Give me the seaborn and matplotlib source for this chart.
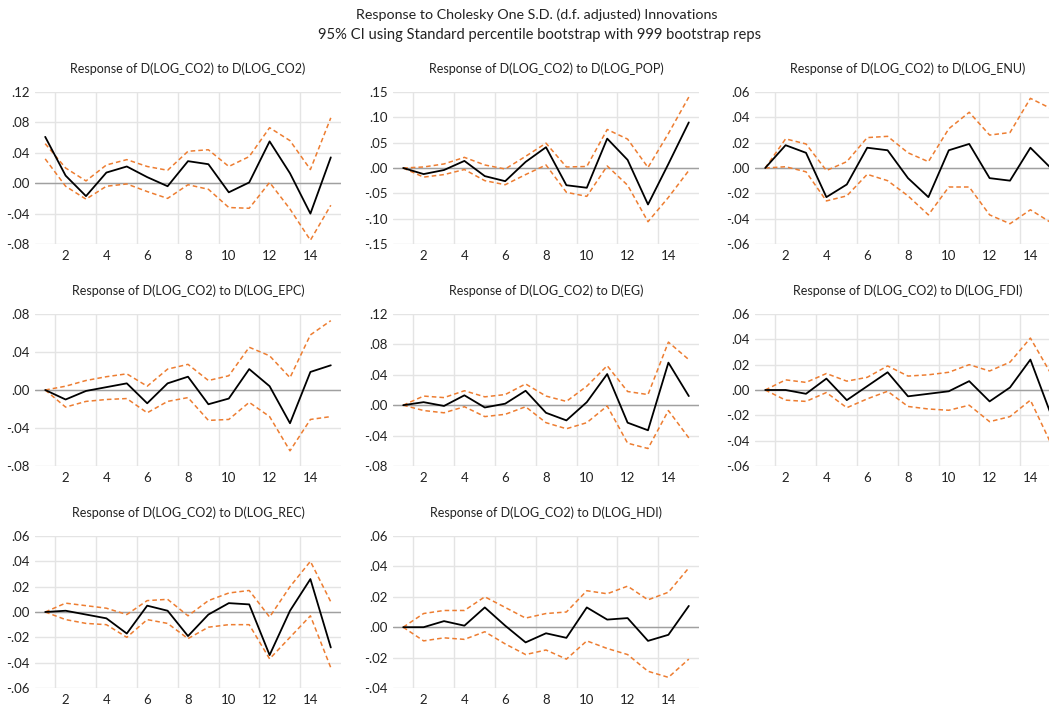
import numpy as np
import pandas as pd
import matplotlib
matplotlib.use('Agg')
import matplotlib.pyplot as plt
from matplotlib.ticker import FixedLocator, FuncFormatter
import seaborn as sns

sns.set_style('white')
plt.rcParams['font.family'] = ['Lato', 'DejaVu Sans']

periods = list(range(1, 16))

# response of D(LOG_CO2) to each shock, with upper / lower 95% band
co2_resp = [0.061, 0.010, -0.017, 0.014, 0.022, 0.008, -0.004, 0.029, 0.025, -0.012, 0.001, 0.055, 0.013, -0.040, 0.034]
co2_up = [0.052, 0.020, 0.003, 0.024, 0.031, 0.022, 0.017, 0.042, 0.044, 0.022, 0.035, 0.073, 0.056, 0.018, 0.086]
co2_lo = [0.032, -0.004, -0.021, -0.004, -0.001, -0.011, -0.020, -0.002, -0.008, -0.032, -0.033, 0.001, -0.034, -0.075, -0.029]

pop_resp = [0.000, -0.012, -0.004, 0.014, -0.016, -0.026, 0.012, 0.041, -0.034, -0.039, 0.058, 0.016, -0.072, 0.008, 0.090]
pop_up = [0.000, 0.002, 0.008, 0.021, 0.006, -0.002, 0.023, 0.049, 0.002, 0.003, 0.076, 0.057, 0.001, 0.068, 0.140]
pop_lo = [0.000, -0.018, -0.013, -0.003, -0.025, -0.033, -0.013, 0.006, -0.048, -0.056, 0.004, -0.034, -0.106, -0.058, -0.005]

enu_resp = [0.000, 0.018, 0.012, -0.023, -0.013, 0.016, 0.014, -0.008, -0.023, 0.014, 0.019, -0.008, -0.010, 0.016, 0.000]
enu_up = [0.000, 0.023, 0.019, -0.002, 0.005, 0.024, 0.025, 0.012, 0.005, 0.031, 0.044, 0.026, 0.028, 0.055, 0.047]
enu_lo = [0.000, 0.001, -0.003, -0.026, -0.022, -0.005, -0.010, -0.022, -0.037, -0.015, -0.015, -0.037, -0.044, -0.033, -0.043]

epc_resp = [0.000, -0.010, -0.001, 0.003, 0.007, -0.014, 0.007, 0.014, -0.015, -0.009, 0.022, 0.004, -0.035, 0.019, 0.026]
epc_up = [0.000, 0.004, 0.010, 0.014, 0.017, 0.004, 0.022, 0.027, 0.010, 0.015, 0.045, 0.036, 0.013, 0.058, 0.073]
epc_lo = [0.000, -0.018, -0.012, -0.010, -0.009, -0.024, -0.012, -0.008, -0.032, -0.031, -0.013, -0.028, -0.064, -0.031, -0.028]

eg_resp = [0.000, 0.004, -0.001, 0.013, -0.003, 0.002, 0.019, -0.010, -0.020, 0.004, 0.041, -0.023, -0.033, 0.056, 0.012]
eg_up = [0.000, 0.012, 0.010, 0.019, 0.011, 0.014, 0.028, 0.012, 0.005, 0.025, 0.052, 0.018, 0.014, 0.083, 0.060]
eg_lo = [0.000, -0.007, -0.010, -0.002, -0.015, -0.012, -0.002, -0.023, -0.031, -0.023, -0.001, -0.050, -0.057, -0.007, -0.043]

fdi_resp = [0.000, 0.000, -0.003, 0.009, -0.008, 0.003, 0.014, -0.005, -0.003, -0.001, 0.007, -0.009, 0.002, 0.024, -0.019]
fdi_up = [0.000, 0.008, 0.006, 0.013, 0.007, 0.010, 0.019, 0.011, 0.012, 0.014, 0.020, 0.015, 0.022, 0.041, 0.013]
fdi_lo = [0.000, -0.008, -0.009, -0.002, -0.014, -0.007, -0.001, -0.013, -0.015, -0.016, -0.012, -0.025, -0.021, -0.008, -0.042]

rec_resp = [0.000, 0.001, -0.002, -0.005, -0.017, 0.005, 0.001, -0.019, -0.002, 0.007, 0.006, -0.034, 0.001, 0.026, -0.028]
rec_up = [0.000, 0.007, 0.005, 0.003, -0.002, 0.009, 0.010, -0.003, 0.009, 0.015, 0.017, -0.004, 0.020, 0.040, 0.008]
rec_lo = [0.000, -0.006, -0.009, -0.010, -0.020, -0.006, -0.009, -0.021, -0.012, -0.010, -0.010, -0.037, -0.020, -0.003, -0.044]

hdi_resp = [0.000, 0.000, 0.004, 0.001, 0.013, 0.001, -0.010, -0.004, -0.007, 0.013, 0.005, 0.006, -0.009, -0.005, 0.014]
hdi_up = [0.000, 0.009, 0.011, 0.011, 0.020, 0.013, 0.006, 0.009, 0.010, 0.024, 0.022, 0.027, 0.018, 0.023, 0.039]
hdi_lo = [0.000, -0.009, -0.007, -0.008, -0.003, -0.011, -0.018, -0.015, -0.021, -0.009, -0.014, -0.018, -0.029, -0.033, -0.021]

shocks = ['LOG_CO2', 'LOG_POP', 'LOG_ENU', 'LOG_EPC', 'EG', 'LOG_FDI', 'LOG_REC', 'LOG_HDI']
series = [(co2_resp, co2_up, co2_lo), (pop_resp, pop_up, pop_lo), (enu_resp, enu_up, enu_lo),
          (epc_resp, epc_up, epc_lo), (eg_resp, eg_up, eg_lo), (fdi_resp, fdi_up, fdi_lo),
          (rec_resp, rec_up, rec_lo), (hdi_resp, hdi_up, hdi_lo)]
y_ticks = [np.arange(-0.08, 0.121, 0.04), np.arange(-0.15, 0.151, 0.05), np.arange(-0.06, 0.061, 0.02),
           np.arange(-0.08, 0.081, 0.04), np.arange(-0.08, 0.121, 0.04), np.arange(-0.06, 0.061, 0.02),
           np.arange(-0.06, 0.061, 0.02), np.arange(-0.04, 0.061, 0.02)]

rows = []
for shock, (resp, up, lo) in zip(shocks, series):
    for name, vals in (('resp', resp), ('up', up), ('lo', lo)):
        for p, v in zip(periods, vals):
            rows.append({'shock': shock, 'kind': name, 'period': p, 'value': v})
df = pd.DataFrame(rows)

W, H = 1049, 705
fig = plt.figure(figsize=(W / 100, H / 100), dpi=100)

col_left = [35, 393, 755]
row_top = [92, 314, 536]
ax_w, ax_h = 306, 152
orange = '#ED7D31'
grid_c = '#E4E4E4'


def fmt(v, _):
    s = '%.2f' % v
    if s.startswith('-0'):
        return '-' + s[2:]
    if s.startswith('0'):
        return s[1:]
    return s


for i, shock in enumerate(shocks):
    r, c = divmod(i, 3)
    ax = fig.add_axes([col_left[c] / W, 1 - (row_top[r] + ax_h) / H, ax_w / W, ax_h / H])
    sub = df[df.shock == shock]

    sns.lineplot(data=sub[sub.kind == 'up'], x='period', y='value', color=orange,
                 lw=1.1, linestyle=(0, (3, 2)), ax=ax, zorder=3)
    sns.lineplot(data=sub[sub.kind == 'lo'], x='period', y='value', color=orange,
                 lw=1.1, linestyle=(0, (3, 2)), ax=ax, zorder=3)
    sns.lineplot(data=sub[sub.kind == 'resp'], x='period', y='value', color='black',
                 lw=1.3, ax=ax, zorder=4)
    ax.axhline(0, color='#A0A0A0', lw=1.0, zorder=2)

    yt = y_ticks[i]
    ax.set_ylim(yt[0], yt[-1])
    ax.set_yticks(yt)
    ax.yaxis.set_major_formatter(FuncFormatter(fmt))
    ax.set_xlim(0.5, 15.5)
    ax.set_xticks(range(2, 15, 2))
    ax.xaxis.set_minor_locator(FixedLocator(np.arange(1.5, 14, 2)))
    ax.grid(which='minor', axis='x', color=grid_c, lw=1.0, zorder=0)
    ax.grid(which='major', axis='y', color=grid_c, lw=1.0, zorder=0)
    ax.grid(which='major', axis='x', visible=False)
    ax.tick_params(which='both', length=0, labelsize=9.5, colors='#222222', pad=4)
    for s in ax.spines.values():
        s.set_visible(False)
    ax.set_xlabel('')
    ax.set_ylabel('')
    ax.set_title('Response of D(LOG_CO2) to D(%s)' % shock, fontsize=9, pad=14, color='#222222')

fig.text(537 / W, 1 - 15 / H, 'Response to Cholesky One S.D. (d.f. adjusted) Innovations',
         ha='center', va='center', fontsize=10.3, color='#222222')
fig.text(540 / W, 1 - 35 / H, '95% CI using Standard percentile bootstrap with 999 bootstrap reps',
         ha='center', va='center', fontsize=10.6, color='#222222')

fig.savefig('out.png', dpi=100)
